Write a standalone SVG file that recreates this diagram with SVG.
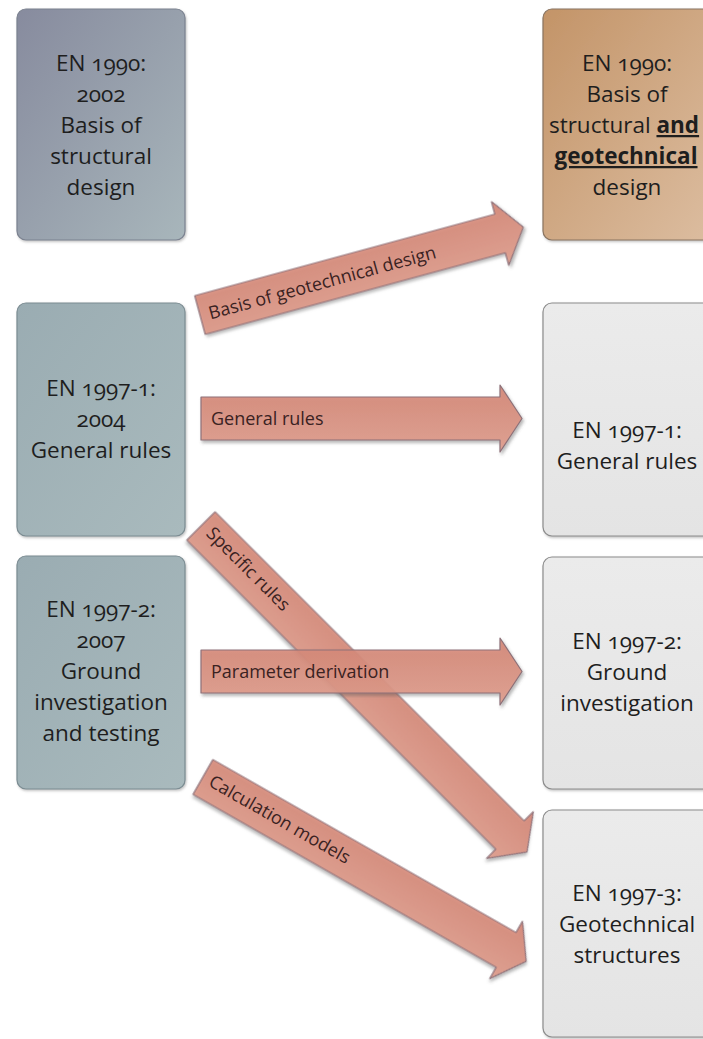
<svg xmlns="http://www.w3.org/2000/svg" width="703" height="1039" viewBox="0 0 703 1039">
<style>
  .box{stroke-width:1.2;}
  .bt{font-family:"Open Sans","Liberation Sans",sans-serif;font-size:22.5px;fill:#1e1e1e;text-anchor:middle;font-variant-numeric:oldstyle-nums;}
  .at{font-family:"Open Sans","Liberation Sans",sans-serif;font-size:18px;fill:#3a2222;}
  .arr{fill:url(#ga);fill-opacity:0.9;stroke:#8d7078;stroke-width:1.2;stroke-linejoin:round;filter:url(#sh);}
</style>
<defs>
  <linearGradient id="g1" x1="0" y1="0" x2="1" y2="1">
    <stop offset="0" stop-color="#878b9e"/>
    <stop offset="1" stop-color="#a8b6bb"/>
  </linearGradient>
  <linearGradient id="g2" x1="0" y1="0" x2="1" y2="1">
    <stop offset="0" stop-color="#9aacb2"/>
    <stop offset="1" stop-color="#a9babd"/>
  </linearGradient>
  <linearGradient id="g3" x1="0" y1="0" x2="1" y2="1">
    <stop offset="0" stop-color="#c39468"/>
    <stop offset="1" stop-color="#dcbda0"/>
  </linearGradient>
  <linearGradient id="g4" x1="0" y1="0" x2="0" y2="1">
    <stop offset="0" stop-color="#ebebeb"/>
    <stop offset="1" stop-color="#e4e4e4"/>
  </linearGradient>
  <linearGradient id="ga" x1="0" y1="0" x2="0" y2="1">
    <stop offset="0" stop-color="#d48575"/>
    <stop offset="1" stop-color="#df9d8c"/>
  </linearGradient>
  <filter id="sh" x="-10%" y="-20%" width="130%" height="160%">
    <feDropShadow dx="1.5" dy="2.5" stdDeviation="1.8" flood-color="#555" flood-opacity="0.45"/>
  </filter>
  <filter id="bs" x="-10%" y="-10%" width="130%" height="130%">
    <feDropShadow dx="1" dy="1.5" stdDeviation="1.2" flood-color="#666" flood-opacity="0.4"/>
  </filter>
</defs>
<rect width="703" height="1039" fill="#ffffff"/>

<g id="left-en1990">
  <rect class="box" x="17" y="9" width="168" height="231" rx="9" fill="url(#g1)" stroke="#7b8290" filter="url(#bs)"/>
  <text class="bt" x="101" y="71">EN 1990:</text>
  <text class="bt" x="101" y="102">2002</text>
  <text class="bt" x="101" y="133">Basis of</text>
  <text class="bt" x="101" y="164">structural</text>
  <text class="bt" x="101" y="195">design</text>
</g>
<g id="left-en1997-1">
  <rect class="box" x="17" y="303" width="168" height="233" rx="9" fill="url(#g2)" stroke="#7b8c92" filter="url(#bs)"/>
  <text class="bt" x="101" y="396">EN 1997-1:</text>
  <text class="bt" x="101" y="427">2004</text>
  <text class="bt" x="101" y="458">General rules</text>
</g>
<g id="left-en1997-2">
  <rect class="box" x="17" y="556" width="168" height="233" rx="9" fill="url(#g2)" stroke="#7b8c92" filter="url(#bs)"/>
  <text class="bt" x="101" y="617">EN 1997-2:</text>
  <text class="bt" x="101" y="648">2007</text>
  <text class="bt" x="101" y="679">Ground</text>
  <text class="bt" x="101" y="710">investigation</text>
  <text class="bt" x="101" y="741">and testing</text>
</g>

<g id="right-en1990">
  <rect class="box" x="543" y="9" width="170" height="231" rx="9" fill="url(#g3)" stroke="#8a7460" filter="url(#bs)"/>
  <text class="bt" x="627" y="71">EN 1990:</text>
  <text class="bt" x="627" y="102">Basis of</text>
  <text class="bt" x="624" y="133" font-size="21">structural <tspan font-weight="bold" text-decoration="underline">and</tspan></text>
  <text class="bt" x="626" y="164" font-size="21.5" font-weight="bold" text-decoration="underline">geotechnical</text>
  <text class="bt" x="627" y="195">design</text>
</g>
<g id="right-en1997-1">
  <rect class="box" x="543" y="303" width="170" height="233" rx="9" fill="url(#g4)" stroke="#8c8c8c" filter="url(#bs)"/>
  <text class="bt" x="627" y="438">EN 1997-1:</text>
  <text class="bt" x="627" y="469">General rules</text>
</g>
<g id="right-en1997-2">
  <rect class="box" x="543" y="557" width="170" height="232" rx="9" fill="url(#g4)" stroke="#8c8c8c" filter="url(#bs)"/>
  <text class="bt" x="627" y="649">EN 1997-2:</text>
  <text class="bt" x="627" y="680">Ground</text>
  <text class="bt" x="627" y="711">investigation</text>
</g>
<g id="right-en1997-3">
  <rect class="box" x="543" y="810" width="170" height="227" rx="9" fill="url(#g4)" stroke="#8c8c8c" filter="url(#bs)"/>
  <text class="bt" x="627" y="901">EN 1997-3:</text>
  <text class="bt" x="627" y="932">Geotechnical</text>
  <text class="bt" x="627" y="963">structures</text>
</g>

<g id="connectors">
  <g id="arrow-basis" transform="translate(200,315) rotate(-15.2)">
    <path class="arr" d="M0,-20 L311,-20 L311,-33 L335,0 L311,33 L311,20 L0,20 Z"/>
    <text class="at" x="9" y="7" font-size="18.5">Basis of geotechnical design</text>
  </g>
  <g id="arrow-general" transform="translate(201,418.5)">
    <path class="arr" d="M0,-21.5 L299,-21.5 L299,-33.5 L321,0 L299,33.5 L299,21.5 L0,21.5 Z"/>
    <text class="at" x="10" y="6">General rules</text>
  </g>
  <g id="arrow-specific" transform="translate(201,526) rotate(45)">
    <path class="arr" d="M0,-20 L437,-20 L437,-33 L461,0 L437,33 L437,20 L0,20 Z"/>
    <text class="at" x="9" y="3">Specific rules</text>
  </g>
  <g id="arrow-parameter" transform="translate(201,671.5)">
    <path class="arr" d="M0,-21.5 L299,-21.5 L299,-33.5 L321,0 L299,33.5 L299,21.5 L0,21.5 Z" fill-opacity="0.8"/>
    <text class="at" x="10" y="6">Parameter derivation</text>
  </g>
  <g id="arrow-calc" transform="translate(203,777) rotate(29.7)">
    <path class="arr" d="M0,-20 L349,-20 L349,-33 L372,0 L349,33 L349,20 L0,20 Z"/>
    <text class="at" x="8" y="5">Calculation models</text>
  </g>
</g>
</svg>
